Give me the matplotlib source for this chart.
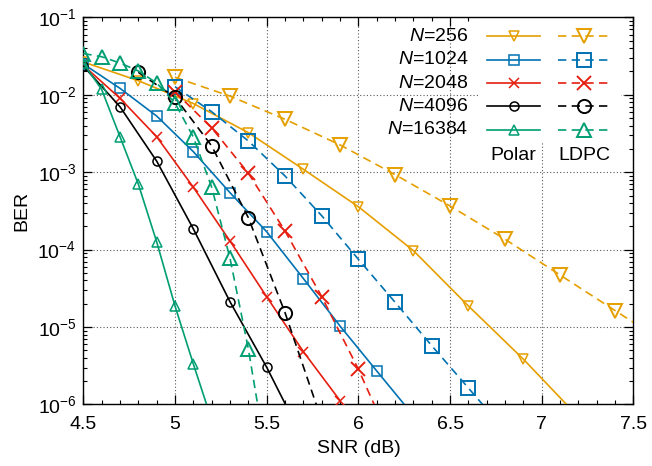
import numpy as np
import matplotlib
matplotlib.use("Agg")
import matplotlib.pyplot as plt
from matplotlib.patches import Rectangle
from matplotlib.ticker import MultipleLocator, LogLocator, NullFormatter

plt.rcParams["font.family"] = ["Liberation Sans", "DejaVu Sans"]
plt.rcParams["mathtext.fontset"] = "custom"
plt.rcParams["mathtext.rm"] = "Liberation Sans"
plt.rcParams["mathtext.it"] = "Liberation Sans:italic"

# block lengths
block_lengths = [256, 1024, 2048, 4096, 16384]

# Polar codes: SNR (dB) and BER
polar_snr = {
    256: [4.5, 4.8, 5.1, 5.4, 5.7, 6.0, 6.3, 6.6, 6.9, 7.2],
    1024: [4.5, 4.7, 4.9, 5.1, 5.3, 5.5, 5.7, 5.9, 6.1, 6.3],
    2048: [4.5, 4.7, 4.9, 5.1, 5.3, 5.5, 5.7, 5.9],
    4096: [4.5, 4.7, 4.9, 5.1, 5.3, 5.5, 5.7],
    16384: [4.5, 4.6, 4.7, 4.8, 4.9, 5.0, 5.1, 5.2],
}
polar_ber = {
    256: [2.65e-2, 1.52e-2, 7.7e-3, 3.24e-3, 1.09e-3, 3.58e-4, 9.7e-5, 1.87e-5, 3.84e-6, 6.9e-7],
    1024: [2.5e-2, 1.21e-2, 5.31e-3, 1.84e-3, 5.43e-4, 1.70e-4, 4.23e-5, 1.03e-5, 2.71e-6, 7.2e-7],
    2048: [2.4e-2, 9.0e-3, 2.87e-3, 6.38e-4, 1.29e-4, 2.46e-5, 4.81e-6, 1.12e-6],
    4096: [2.35e-2, 7.0e-3, 1.39e-3, 1.85e-4, 2.12e-5, 3.02e-6, 3.5e-7],
    16384: [2.55e-2, 1.17e-2, 2.87e-3, 7.0e-4, 1.26e-4, 1.87e-5, 3.33e-6, 6.3e-7],
}

# LDPC codes: SNR (dB) and BER
ldpc_snr = {
    256: [5.0, 5.3, 5.6, 5.9, 6.2, 6.5, 6.8, 7.1, 7.4, 7.7],
    1024: [5.0, 5.2, 5.4, 5.6, 5.8, 6.0, 6.2, 6.4, 6.6, 6.8],
    2048: [5.0, 5.2, 5.4, 5.6, 5.8, 6.0, 6.2],
    4096: [4.8, 5.0, 5.2, 5.4, 5.6, 5.8],
    16384: [4.5, 4.6, 4.7, 4.8, 4.9, 5.0, 5.1, 5.2, 5.3, 5.4, 5.5],
}
ldpc_ber = {
    256: [1.68e-2, 9.6e-3, 4.82e-3, 2.25e-3, 9.3e-4, 3.66e-4, 1.36e-4, 4.7e-5, 1.63e-5, 5.7e-6],
    1024: [1.27e-2, 6.04e-3, 2.53e-3, 8.93e-4, 2.74e-4, 7.5e-5, 2.09e-5, 5.74e-6, 1.63e-6, 4.6e-7],
    2048: [1.09e-2, 3.74e-3, 9.7e-4, 1.74e-4, 2.47e-5, 2.85e-6, 2.5e-7],
    4096: [1.95e-2, 9.27e-3, 2.18e-3, 2.58e-4, 1.53e-5, 6.2e-7],
    16384: [3.41e-2, 3.10e-2, 2.57e-2, 2.03e-2, 1.42e-2, 7.8e-3, 2.84e-3, 6.4e-4, 7.7e-5, 5.2e-6, 2e-7],
}

colors = {256: "#E69F00", 1024: "#0072B2", 2048: "#E51E10", 4096: "black", 16384: "#009E73"}
markers = {256: "v", 1024: "s", 2048: "x", 4096: "o", 16384: "^"}
polar_ms = {256: 7, 1024: 6.5, 2048: 7, 4096: 6.5, 16384: 7}
ldpc_ms = {256: 9.5, 1024: 9.5, 2048: 10, 4096: 9.5, 16384: 9.5}

fs = 14

fig = plt.figure(figsize=(6.52, 4.66), dpi=100)
ax = fig.add_axes([0.1278, 0.132, 0.8438, 0.8308])

dash = (0, (5, 3.2))

for n in block_lengths:
    c = colors[n]
    ax.plot(polar_snr[n], polar_ber[n], color=c, lw=1.2, marker=markers[n],
            ms=polar_ms[n], mfc="none", mec=c, mew=1.1, zorder=3)
    ax.plot(ldpc_snr[n], ldpc_ber[n], color=c, lw=1.2, ls=dash, marker=markers[n],
            ms=ldpc_ms[n], mfc="none", mec=c, mew=1.4, zorder=3)

ax.set_yscale("log")
ax.set_xlim(4.5, 7.5)
ax.set_ylim(1e-6, 1e-1)
ax.xaxis.set_major_locator(MultipleLocator(0.5))
ax.xaxis.set_minor_locator(MultipleLocator(0.1))
ax.xaxis.set_major_formatter(plt.FuncFormatter(lambda v, p: f"{v:g}"))
ax.yaxis.set_major_locator(LogLocator(base=10, numticks=10))
ax.yaxis.set_minor_locator(LogLocator(base=10, subs=np.arange(2, 10), numticks=10))
ax.yaxis.set_minor_formatter(NullFormatter())

ax.tick_params(which="both", direction="in", top=True, right=True, labelsize=fs)
ax.tick_params(which="major", length=6.5, width=0.9)
ax.tick_params(which="minor", length=3.2, width=0.8)
ax.tick_params(axis="x", pad=8)
ax.tick_params(axis="y", pad=5)
for s in ax.spines.values():
    s.set_linewidth(1.0)

ax.grid(True, which="major", color="0.35", ls=(0, (1, 2)), lw=0.8, zorder=0)
ax.set_axisbelow(True)

ax.set_xlabel("SNR (dB)", fontsize=fs, labelpad=5)
ax.set_ylabel("BER", fontsize=fs, labelpad=5)

# legend drawn by hand: labels left, polar sample, ldpc sample
ax.add_patch(Rectangle((0.718, 0.675), 0.26, 0.33, transform=ax.transAxes,
                       facecolor="white", edgecolor="none", zorder=2))
row_y = [0.9517, 0.891, 0.830, 0.770, 0.709]
for n, yy in zip(block_lengths, row_y):
    c = colors[n]
    ax.text(0.699, yy, f"$N$={n}", transform=ax.transAxes, ha="right", va="center",
            fontsize=fs, zorder=4)
    ax.plot([0.734, 0.830], [yy, yy], transform=ax.transAxes, color=c, lw=1.2,
            zorder=4, clip_on=False)
    ax.plot([0.782], [yy], transform=ax.transAxes, marker=markers[n], ms=polar_ms[n],
            mfc="none", mec=c, mew=1.1, zorder=4, clip_on=False)
    ax.plot([0.863, 0.957], [yy, yy], transform=ax.transAxes, color=c, lw=1.2, ls=dash,
            zorder=4, clip_on=False)
    ax.plot([0.910], [yy], transform=ax.transAxes, marker=markers[n], ms=ldpc_ms[n],
            mfc="none", mec=c, mew=1.4, zorder=4, clip_on=False)
ax.text(0.782, 0.644, "Polar", transform=ax.transAxes, ha="center", va="center",
        fontsize=fs, zorder=4)
ax.text(0.910, 0.644, "LDPC", transform=ax.transAxes, ha="center", va="center",
        fontsize=fs, zorder=4)

fig.savefig("out.png", dpi=100)
